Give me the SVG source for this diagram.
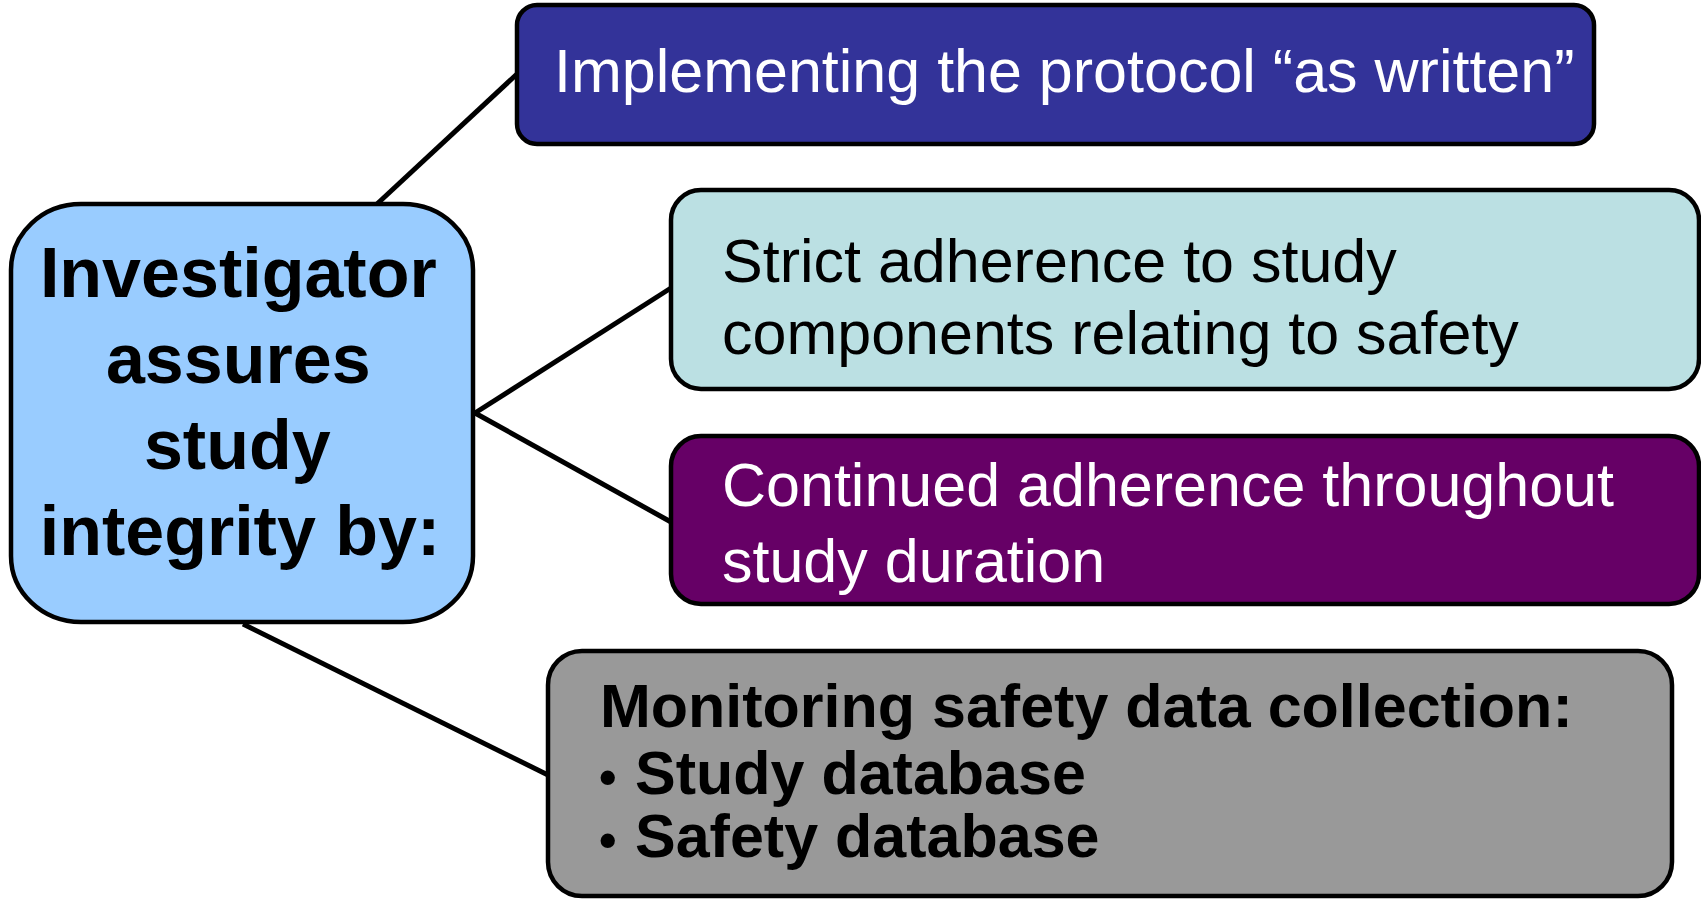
<svg xmlns="http://www.w3.org/2000/svg" width="1701" height="900" viewBox="0 0 1701 900">
  <style>
    .box { stroke: #000000; stroke-width: 4.5; }
    .link { stroke: #000000; stroke-width: 5; fill: none; }
    text { font-family: "Liberation Sans", Arial, sans-serif; font-size: 61px; }
    .big { font-size: 70px; }
    .bold { font-weight: bold; }
    .light { fill: #ffffff; }
    .dark { fill: #000000; }
  </style>
  <rect width="1701" height="900" fill="#ffffff"/>

  <!-- connectors from the central node to each item -->
  <g id="connectors">
    <line class="link" x1="377" y1="204" x2="517" y2="74"/>
    <line class="link" x1="475" y1="413" x2="671" y2="288"/>
    <line class="link" x1="475" y1="413" x2="671" y2="522"/>
    <line class="link" x1="243" y1="624" x2="548" y2="775"/>
  </g>

  <!-- central node -->
  <g id="investigator">
    <rect class="box" x="11" y="204" width="462" height="418" rx="70" ry="66" fill="#99CCFF"/>
    <text class="bold dark big" text-anchor="middle">
      <tspan x="248" y="297">Investigator</tspan>
      <tspan x="248" y="383">assures</tspan>
      <tspan x="247" y="469">study</tspan>
      <tspan x="240" y="555">integrity by:</tspan>
    </text>
  </g>

  <!-- item 1 -->
  <g id="protocol">
    <rect class="box" x="517" y="5" width="1077" height="139" rx="20" fill="#333399"/>
    <text class="light" x="554" y="92">Implementing the protocol “as written”</text>
  </g>

  <!-- item 2 -->
  <g id="strict-adherence">
    <rect class="box" x="671" y="190" width="1028" height="199" rx="30" fill="#BBE0E3"/>
    <text class="dark">
      <tspan x="722" y="282">Strict adherence to study</tspan>
      <tspan x="722" y="354">components relating to safety</tspan>
    </text>
  </g>

  <!-- item 3 -->
  <g id="continued-adherence">
    <rect class="box" x="671" y="436" width="1028" height="168" rx="30" fill="#660066"/>
    <text class="light">
      <tspan x="722" y="506">Continued adherence throughout</tspan>
      <tspan x="722" y="582">study duration</tspan>
    </text>
  </g>

  <!-- item 4 -->
  <g id="monitoring">
    <rect class="box" x="548" y="651" width="1124" height="245" rx="34" fill="#999999"/>
    <text class="bold dark">
      <tspan x="600" y="727">Monitoring safety data collection:</tspan>
      <tspan x="599" y="794" font-size="50">•</tspan><tspan x="635" y="794">Study database</tspan>
      <tspan x="599" y="857" font-size="50">•</tspan><tspan x="635" y="857">Safety database</tspan>
    </text>
  </g>
</svg>
